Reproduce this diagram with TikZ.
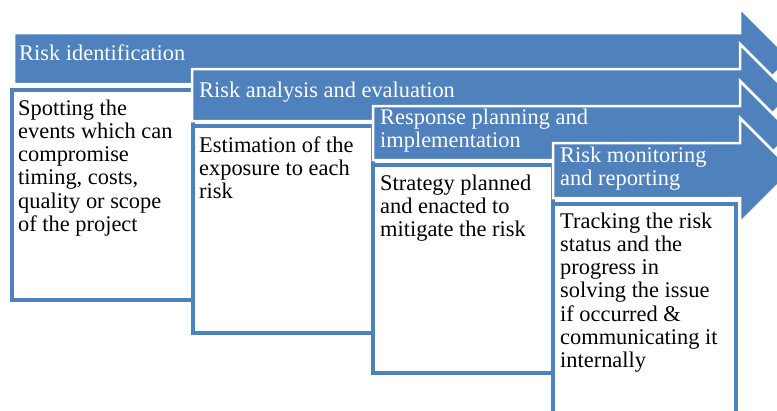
\documentclass[tikz,border=0pt]{standalone}
\usepackage{fontspec}
\setmainfont{Liberation Serif}
\definecolor{sablue}{RGB}{79,129,189}
\tikzset{
  arrowshape/.style={fill=sablue, draw=white, line width=2.5pt, line join=miter},
  descbox/.style={fill=white, draw=sablue, line width=4pt},
  headtext/.style={anchor=base west, inner sep=0pt, text=white, align=left, font=\fontsize{22.4}{23.3}\selectfont},
  bodytext/.style={anchor=base west, inner sep=0pt, text=black, align=left, font=\fontsize{22.4}{23.3}\selectfont},
}
\begin{document}
\begin{tikzpicture}[x=1pt,y=-1pt]
\useasboundingbox (0,0) rectangle (777,410);
\clip (0,0) rectangle (777,410);
% arrow 1
\draw[arrowshape] (14,33) -- (740,33) -- (740,8) -- (790.5,58.5) -- (740,109) -- (740,84) -- (14,84) -- cycle;
\draw[descbox] (12,89.5) rectangle (192.5,300);
% arrow 2
\draw[arrowshape] (192,69) -- (740,69) -- (740,44) -- (791,95) -- (740,146) -- (740,121) -- (192,121) -- cycle;
\draw[descbox] (192.5,126) rectangle (373,332.5);
% arrow 3
\draw[arrowshape] (373,106) -- (740,106) -- (740,81) -- (792,133) -- (740,185) -- (740,160) -- (373,160) -- cycle;
\draw[descbox] (373,165) rectangle (552.5,372.5);
% arrow 4
\draw[arrowshape] (553,143) -- (740,143) -- (740,118) -- (792.5,170.5) -- (740,223) -- (740,198) -- (553,198) -- cycle;
\draw[descbox] (552.5,203.5) rectangle (735.5,420);
% header texts (anchor at baseline of last line)
\node[headtext] (h1) at (19,60) {Risk identification};
\node[headtext] (h2) at (199,97) {Risk analysis and evaluation};
\node[headtext] (h3) at (380,147.3) {Response planning and\\implementation};
\node[headtext] (h4) at (560,185.3) {Risk monitoring\\and reporting};
% body texts
\node[bodytext] (b1) at (18,231.5) {Spotting the\\events which can\\compromise\\timing, costs,\\quality or scope\\of the project};
\node[bodytext] (b2) at (199,198.6) {Estimation of the\\exposure to each\\risk};
\node[bodytext] (b3) at (380,236.6) {Strategy planned\\and enacted to\\mitigate the risk};
\node[bodytext] (b4) at (560,367.8) {Tracking the risk\\status and the\\progress in\\solving the issue\\if occurred \&\\communicating it\\internally};
\end{tikzpicture}
\end{document}
